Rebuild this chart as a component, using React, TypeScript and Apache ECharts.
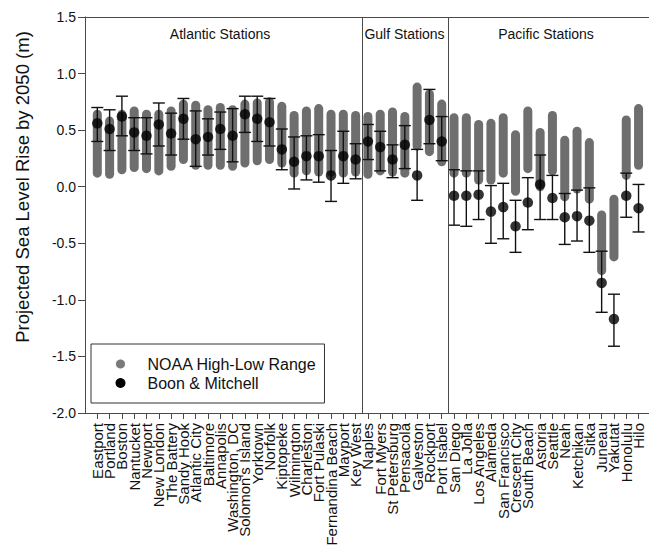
import React, { useEffect, useRef } from "react";
import * as echarts from "echarts";

const stations = [
  "Eastport", "Portland", "Boston", "Nantucket", "Newport", "New London", "The Battery",
  "Sandy Hook", "Atlantic City", "Baltimore", "Annapolis", "Washington, DC", "Solomon's Island",
  "Yorktown", "Norfolk", "Kiptopeke", "Wilmington", "Charleston", "Fort Pulaski",
  "Fernandina Beach", "Mayport", "Key West",
  "Naples", "Fort Myers", "St Petersburg", "Pensacola", "Galveston", "Rockport", "Port Isabel",
  "San Diego", "La Jolla", "Los Angeles", "Alameda", "San Francisco", "Crescent City",
  "South Beach", "Astoria", "Seattle", "Neah", "Ketchikan", "Sitka", "Juneau", "Yakutat",
  "Honolulu", "Hilo",
];

const noaaLow = [
  0.08, 0.07, 0.11, 0.13, 0.12, 0.10, 0.14, 0.20, 0.15, 0.15, 0.15, 0.14, 0.17, 0.19, 0.20,
  0.17, 0.08, 0.10, 0.09, 0.09, 0.08, 0.09,
  0.07, 0.10, 0.09, 0.08, 0.32, 0.27, 0.18,
  0.08, 0.08, 0.02, 0.02, 0.08, -0.08, 0.12, -0.04, 0.10, -0.13, -0.06, -0.15, -0.78, -0.66,
  0.06, 0.15,
];
const noaaHigh = [
  0.68, 0.62, 0.68, 0.71, 0.68, 0.68, 0.71, 0.77, 0.76, 0.72, 0.74, 0.72, 0.77, 0.78, 0.79,
  0.75, 0.67, 0.71, 0.73, 0.68, 0.68, 0.67,
  0.66, 0.68, 0.70, 0.66, 0.92, 0.86, 0.77,
  0.65, 0.65, 0.59, 0.60, 0.65, 0.50, 0.71, 0.52, 0.67, 0.45, 0.53, 0.43, -0.21, -0.07,
  0.63, 0.73,
];
const bmValue = [
  0.56, 0.51, 0.62, 0.48, 0.45, 0.55, 0.47, 0.60, 0.42, 0.44, 0.51, 0.45, 0.64, 0.60, 0.57,
  0.33, 0.22, 0.27, 0.27, 0.10, 0.27, 0.24,
  0.40, 0.35, 0.24, 0.37, 0.10, 0.59, 0.40,
  -0.08, -0.08, -0.07, -0.22, -0.18, -0.35, -0.14, 0.02, -0.10, -0.27, -0.26, -0.30, -0.85,
  -1.17, -0.08, -0.19,
];
const bmLow = [
  0.40, 0.32, 0.45, 0.32, 0.29, 0.36, 0.28, 0.42, 0.18, 0.28, 0.33, 0.22, 0.48, 0.40, 0.36,
  0.15, -0.02, 0.06, 0.04, -0.13, 0.03, 0.07,
  0.24, 0.14, 0.08, 0.16, -0.12, 0.38, 0.23,
  -0.34, -0.35, -0.29, -0.50, -0.46, -0.58, -0.38, -0.29, -0.29, -0.51, -0.48, -0.58, -1.11,
  -1.41, -0.27, -0.40,
];
const bmHigh = [
  0.70, 0.68, 0.80, 0.61, 0.61, 0.74, 0.65, 0.78, 0.67, 0.60, 0.66, 0.69, 0.80, 0.80, 0.78,
  0.51, 0.44, 0.45, 0.46, 0.32, 0.49, 0.38,
  0.55, 0.49, 0.37, 0.54, 0.33, 0.86, 0.62,
  0.15, 0.14, 0.14, 0.01, 0.03, -0.12, 0.08, 0.28, 0.10, -0.06, -0.03, -0.01, -0.57, -0.95,
  0.12, 0.02,
];

const yTicks = [-2.0, -1.5, -1.0, -0.5, 0.0, 0.5, 1.0, 1.5];
const regionBreaks = [21.5, 28.5];
const regionTitles = ["Atlantic Stations", "Gulf Stations", "Pacific Stations"];

const FONT = "'Liberation Sans', Arial, sans-serif";
const GRAY = "#6e6e6e";
const FRAME = "#4a4a4a";
const X_MIN = -1;
const X_MAX = 44.85;

export default function App() {
  const ref = useRef<HTMLDivElement>(null);

  useEffect(() => {
    if (!ref.current) return;
    const chart = echarts.init(ref.current, undefined, { renderer: "svg" });
    const idx = stations.map((_, i) => i);
    const evenIdx = idx.filter((i) => i % 2 === 0);
    const oddIdx = idx.filter((i) => i % 2 === 1);
    const rangeData = idx.map((i) => [i, noaaLow[i], noaaHigh[i]]);
    const errData = idx.map((i) => [i, bmLow[i], bmHigh[i]]);
    const dotData = idx.map((i) => [i, bmValue[i]]);

    const titleStyle = { fontSize: 14, fontFamily: FONT, fill: "#111", textAlign: "center", textVerticalAlign: "middle" };
    const stationLabel = (values: number[]) => ({
      show: true,
      customValues: values,
      rotate: 90,
      margin: 10,
      fontSize: 15,
      color: "#111",
      fontFamily: FONT,
      showMinLabel: true,
      showMaxLabel: true,
      hideOverlap: false,
      formatter: (v: number) => stations[Math.round(v)] ?? "",
    });

    const option: any = {
      animation: false,
      backgroundColor: "#ffffff",
      textStyle: { fontFamily: FONT },
      grid: { left: 85, right: 0, top: 17, bottom: 142, containLabel: false },
      xAxis: [
        {
          type: "value",
          min: X_MIN,
          max: X_MAX,
          position: "bottom",
          splitLine: { show: false },
          axisLine: { show: true, onZero: false, lineStyle: { color: FRAME, width: 1 } },
          axisTick: {
            show: true,
            customValues: idx,
            length: 6,
            inside: false,
            lineStyle: { color: FRAME, width: 1 },
          },
          axisLabel: stationLabel(evenIdx),
        },
        {
          type: "value",
          min: X_MIN,
          max: X_MAX,
          position: "top",
          splitLine: { show: false },
          axisLine: { show: true, onZero: false, lineStyle: { color: FRAME, width: 1 } },
          axisTick: { show: false },
          axisLabel: { show: false },
        },
        {
          type: "value",
          min: X_MIN,
          max: X_MAX,
          position: "bottom",
          offset: 0,
          splitLine: { show: false },
          axisLine: { show: false, onZero: false },
          axisTick: { show: false },
          axisLabel: stationLabel(oddIdx),
        },
      ],
      yAxis: {
        type: "value",
        min: -2,
        max: 1.5,
        interval: 0.5,
        splitLine: { show: false },
        axisLine: { show: true, onZero: false, lineStyle: { color: FRAME, width: 1 } },
        axisTick: { show: true, length: 7, lineStyle: { color: FRAME } },
        axisLabel: {
          fontSize: 14,
          color: "#111",
          margin: 9,
          fontFamily: FONT,
          formatter: (v: number) => (yTicks.includes(v) ? v.toFixed(1) : ""),
        },
      },
      legend: {
        orient: "vertical",
        left: 91,
        top: 344,
        padding: [12, 8, 12, 24],
        itemGap: 3,
        itemWidth: 10,
        itemHeight: 10,
        borderColor: "#333",
        borderWidth: 1,
        borderRadius: 0,
        selectedMode: false,
        textStyle: { fontSize: 16, color: "#111", fontFamily: FONT, padding: [0, 0, 0, 17] },
        data: [
          {
            name: "NOAA High-Low Range",
            icon: "circle",
            itemStyle: { color: "#7a7a7a", borderColor: "#ffffff", borderWidth: 1 },
          },
          { name: "Boon & Mitchell", icon: "circle", itemStyle: { color: "#000" } },
        ],
      },
      graphic: [
        {
          type: "text",
          x: 22,
          y: 187,
          rotation: Math.PI / 2,
          style: {
            text: "Projected Sea Level Rise by 2050 (m)",
            fontSize: 18.5,
            fontFamily: FONT,
            fill: "#111",
            textAlign: "center",
            textVerticalAlign: "middle",
          },
        },
        { type: "text", x: 220, y: 34, style: { ...titleStyle, text: regionTitles[0] } },
        { type: "text", x: 404.5, y: 34, style: { ...titleStyle, text: regionTitles[1] } },
        { type: "text", x: 546, y: 34, style: { ...titleStyle, text: regionTitles[2] } },
      ],
      series: [
        {
          name: "NOAA High-Low Range",
          type: "custom",
          xAxisIndex: 0,
          data: rangeData,
          encode: { x: 0, y: [1, 2] },
          renderItem: (params: any, api: any) => {
            const x = api.value(0);
            const top = api.coord([x, api.value(2)]);
            const bot = api.coord([x, api.value(1)]);
            const w = 9;
            return {
              type: "rect",
              shape: { x: top[0] - w / 2, y: top[1], width: w, height: bot[1] - top[1], r: w / 2 },
              style: { fill: GRAY },
            };
          },
          markLine: {
            silent: true,
            symbol: "none",
            label: { show: false },
            lineStyle: { color: FRAME, width: 1, type: "solid" },
            data: regionBreaks.map((v) => ({ xAxis: v })),
          },
          z: 2,
        },
        {
          name: "Boon & Mitchell",
          type: "custom",
          xAxisIndex: 0,
          data: errData,
          encode: { x: 0, y: [1, 2] },
          renderItem: (params: any, api: any) => {
            const x = api.value(0);
            const top = api.coord([x, api.value(2)]);
            const bot = api.coord([x, api.value(1)]);
            const cw = 6;
            const ls = { stroke: "#111", lineWidth: 1.4 };
            return {
              type: "group",
              children: [
                { type: "line", shape: { x1: top[0], y1: top[1], x2: bot[0], y2: bot[1] }, style: ls },
                { type: "line", shape: { x1: top[0] - cw, y1: top[1], x2: top[0] + cw, y2: top[1] }, style: ls },
                { type: "line", shape: { x1: bot[0] - cw, y1: bot[1], x2: bot[0] + cw, y2: bot[1] }, style: ls },
              ],
            };
          },
          z: 3,
        },
        {
          name: "Boon & Mitchell",
          type: "scatter",
          xAxisIndex: 0,
          data: dotData,
          symbol: "circle",
          symbolSize: 10.5,
          itemStyle: { color: "#000" },
          z: 4,
        },
      ],
    };
    chart.setOption(option);
    return () => chart.dispose();
  }, []);

  return (
    <div
      ref={ref}
      style={{ position: "fixed", left: 0, top: 0, width: 649, height: 555, background: "#fff" }}
    />
  );
}
